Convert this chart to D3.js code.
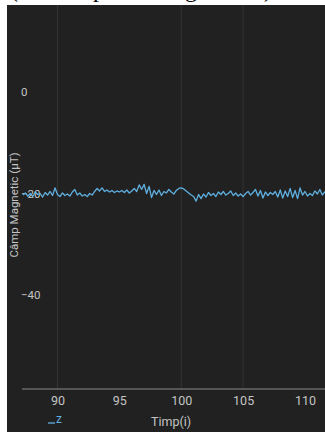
<!DOCTYPE html>
<html><head><meta charset="utf-8">
<script src="https://cdn.jsdelivr.net/npm/d3@7"></script>
<style>html,body{margin:0;padding:0;background:#fff;overflow:hidden}svg{display:block}</style>
</head><body>
<script>
const times = [
  87.2,87.4,87.6,87.8,88.0,88.2,88.4,88.6,88.8,89.0,
  89.2,89.4,89.6,89.8,90.0,90.2,90.4,90.6,90.8,91.0,
  91.2,91.4,91.6,91.8,92.0,92.2,92.4,92.6,92.8,93.0,
  93.2,93.4,93.6,93.8,94.0,94.2,94.4,94.6,94.8,95.0,
  95.2,95.4,95.6,95.8,96.0,96.2,96.4,96.6,96.8,97.0,
  97.2,97.4,97.6,97.8,98.0,98.2,98.4,98.6,98.8,99.0,
  99.2,99.4,99.6,99.8,100.0,100.2,100.4,100.6,100.8,101.0,
  101.2,101.4,101.6,101.8,102.0,102.2,102.4,102.6,102.8,103.0,
  103.2,103.4,103.6,103.8,104.0,104.2,104.4,104.6,104.8,105.0,
  105.2,105.4,105.6,105.8,106.0,106.2,106.4,106.6,106.8,107.0,
  107.2,107.4,107.6,107.8,108.0,108.2,108.4,108.6,108.8,109.0,
  109.2,109.4,109.6,109.8,110.0,110.2,110.4,110.6,110.8,111.0,
  111.2,111.4,111.6,111.8];
const zValues = [
  -20.3,-19.9,-20.5,-20.0,-20.6,-19.7,-20.2,-20.0,-20.7,-19.8,
  -20.3,-19.6,-20.4,-18.9,-20.2,-20.6,-19.9,-20.4,-20.1,-20.5,
  -19.7,-19.2,-20.3,-19.9,-20.5,-20.2,-20.6,-20.0,-20.3,-19.6,
  -19.0,-19.5,-18.9,-19.6,-19.3,-19.7,-19.4,-19.8,-19.5,-19.7,
  -19.4,-19.8,-19.3,-19.9,-19.5,-19.0,-19.6,-18.3,-19.2,-18.2,
  -20.0,-18.6,-20.8,-19.4,-20.2,-19.3,-20.4,-19.6,-19.9,-19.2,
  -19.7,-20.1,-19.4,-19.0,-18.9,-19.1,-19.5,-19.9,-20.3,-20.6,
  -21.5,-20.2,-21.0,-20.1,-20.7,-19.8,-20.4,-20.0,-20.6,-19.7,
  -20.2,-19.6,-20.3,-20.0,-19.5,-20.4,-19.9,-20.5,-20.1,-20.6,
  -20.0,-19.6,-20.3,-19.8,-19.2,-20.5,-19.4,-20.9,-19.7,-20.4,
  -19.8,-20.2,-19.6,-20.7,-19.3,-20.9,-19.5,-20.6,-19.0,-20.8,
  -19.4,-21.0,-18.9,-20.3,-19.6,-20.5,-20.0,-20.4,-19.5,-20.1,
  -19.2,-20.3,-19.7,-20.0];
const xTicks = [90,95,100,105,110];
const xGrid = [90,100,105];
const yTicks = [0,-20,-40];
const seriesName = "z";
const yTitle = "Câmp Magnetic (µT)";
const xTitle = "Timp(i)";
const caption = "(Exemplu de grafic)";

const W = 325, H = 432;
const svg = d3.select("body").append("svg").attr("width", W).attr("height", H);
svg.append("text").attr("x",10).attr("y",-3).attr("font-family","Liberation Serif").attr("font-size",24)
  .attr("fill","#000").attr("textLength",262).text(caption);
svg.append("rect").attr("x",7).attr("y",5).attr("width",W-7).attr("height",H-5).attr("fill","#212121");

const x = d3.scaleLinear().domain([90,110]).range([57.5,305]);
const y = d3.scaleLinear().domain([0,-40]).range([92,295]);
const plotL = 22, plotB = 389, plotT = 5;

svg.append("g").selectAll("line").data(xGrid).join("line")
  .attr("x1",d=>x(d)).attr("x2",d=>x(d)).attr("y1",plotT).attr("y2",plotB)
  .attr("stroke","#343434").attr("stroke-width",1);

svg.append("line").attr("x1",plotL).attr("x2",W).attr("y1",plotB).attr("y2",plotB)
  .attr("stroke","#8a8a8a").attr("stroke-width",1);

const xAxis = d3.axisBottom(x).tickValues(xTicks).tickSize(0).tickPadding(7).tickFormat(d3.format("d"));
const gx = svg.append("g").attr("transform",`translate(0,${plotB})`).call(xAxis);
gx.select(".domain").remove();
gx.selectAll("text").attr("fill","#c4c4c4").attr("font-family","Roboto").attr("font-size",12.5);

const yAxis = d3.axisLeft(y).tickValues(yTicks).tickSize(0).tickFormat(d3.format("d"));
const gy = svg.append("g").attr("transform","translate(21,0)").call(yAxis);
gy.select(".domain").remove();
gy.selectAll("text").attr("text-anchor","start").attr("x",0).attr("fill","#c4c4c4").attr("font-family","Roboto").attr("font-size",11.5);

svg.append("text").attr("transform","translate(18,205) rotate(-90)").attr("text-anchor","middle")
  .attr("fill","#c4c4c4").attr("font-family","Roboto").attr("font-size",11.5).text(yTitle);

svg.append("text").attr("x",171).attr("y",426).attr("text-anchor","middle")
  .attr("fill","#c4c4c4").attr("font-family","Roboto").attr("font-size",12.5).text(xTitle);

const line = d3.line().x((d,i)=>x(times[i])).y(d=>y(d));
svg.append("path").datum(zValues).attr("d",line).attr("fill","none")
  .attr("stroke","#5fb0e0").attr("stroke-width",1.3).attr("stroke-linejoin","round");

svg.append("line").attr("x1",48).attr("x2",55).attr("y1",423).attr("y2",423).attr("stroke","#5fb0e0").attr("stroke-width",1.3);
svg.append("text").attr("x",56).attr("y",423).attr("fill","#5fb0e0").attr("font-family","Roboto").attr("font-size",12).text(seriesName);
</script>
</body></html>
